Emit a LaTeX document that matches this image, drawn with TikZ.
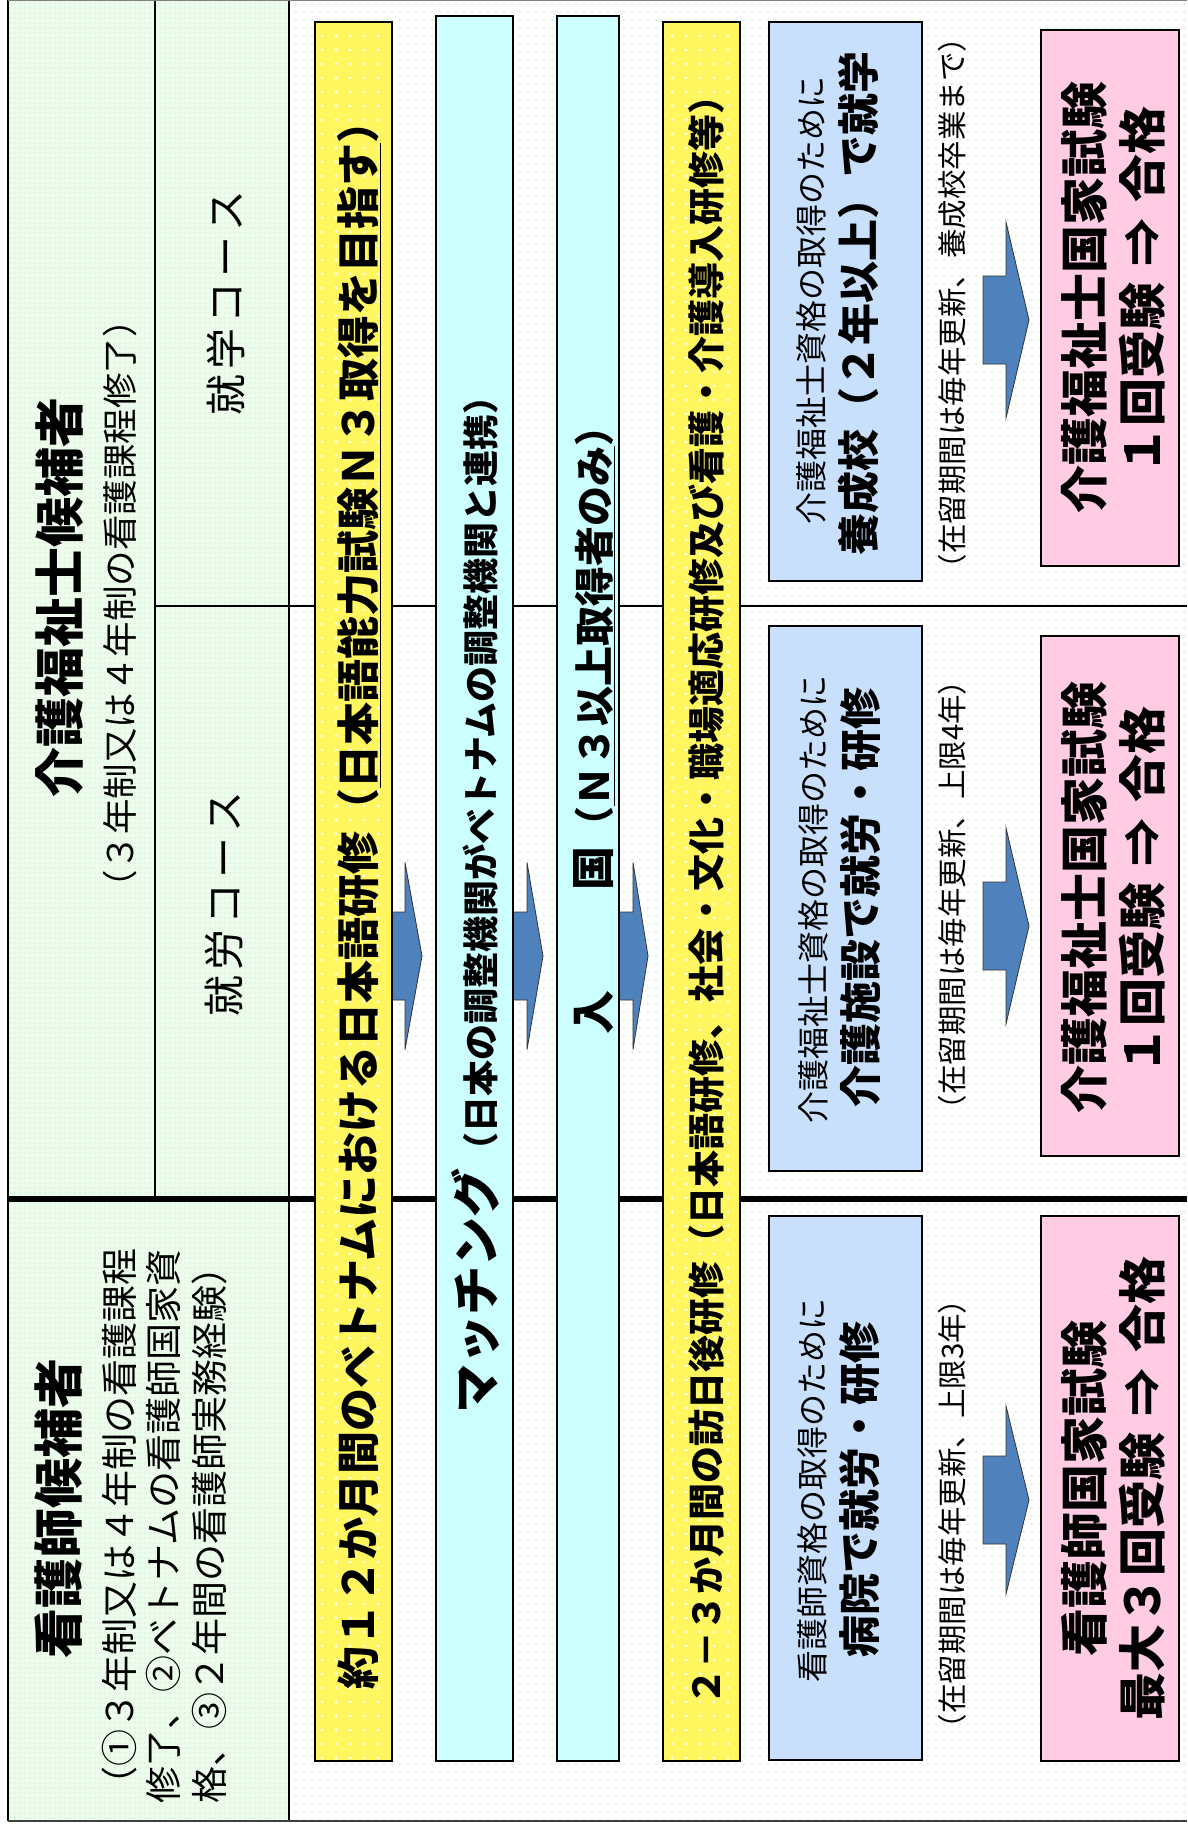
\documentclass[tikz,border=0pt]{standalone}
\usepackage{fontspec}
\setmainfont{Noto Sans CJK JP}
\usetikzlibrary{patterns.meta}
\definecolor{hdrgreen}{RGB}{238,252,238}
\definecolor{hdrdot}{RGB}{218,246,218}
\definecolor{dotgreen}{RGB}{205,243,205}
\definecolor{yel}{RGB}{255,246,96}
\definecolor{cya}{RGB}{204,255,255}
\definecolor{lblue}{RGB}{200,224,252}
\definecolor{pnk}{RGB}{255,204,228}
\definecolor{arrblue}{RGB}{79,129,189}
\newcommand{\fs}[1]{\fontsize{#1}{#1}\selectfont}
\newcommand{\barrow}[6]{%
  \filldraw[barr] (#1,#4-#5) -- (#2,#4-#5) -- (#2,#4-#6) -- (#3,#4) -- (#2,#4+#6) -- (#2,#4+#5) -- (#1,#4+#5) -- cycle;}
\begin{document}
\begin{tikzpicture}[x=1pt,y=-1pt,
  boxline/.style={draw=black, line width=2.2pt, inner sep=0pt, outer sep=0pt},
  ybox/.style={boxline, preaction={fill=yel}, pattern={Dots[distance=14pt,radius=1.5pt]}, pattern color=white},
  cbox/.style={boxline, fill=cya},
  bbox/.style={boxline, fill=lblue},
  pbox/.style={boxline, fill=pnk},
  rt/.style={rotate=90, inner sep=0pt, outer sep=0pt},
  barr/.style={fill=arrblue, draw=black!80, line width=0.8pt, line join=miter},
]
\useasboundingbox (0,0) rectangle (1187,1828);
\fill[white] (0,0) rectangle (1187,1828);
% backgrounds
\fill[hdrgreen] (8,0) rectangle (289,1821);
\path[pattern={Dots[distance=5pt,radius=1.2pt]}, pattern color=hdrdot] (8,0) rectangle (289,1821);
\path[pattern={Dots[distance=8pt,radius=1.2pt]}, pattern color=dotgreen] (289,0) rectangle (1187,1821);
% frame lines
\draw[line width=2pt] (155,0) -- (155,1199);
\draw[line width=2pt] (289,0) -- (289,1821);
\draw[line width=2pt] (155,606) -- (1187,606);
\draw[line width=5.5pt] (8,1199) -- (1187,1199);
\draw[line width=2.5pt] (8,0) -- (8,1821);
\draw[gray, line width=1.5pt] (8,0.75) -- (1187,0.75);
\draw[black!75, line width=2.5pt] (8,1821) -- (1187,1821);
% arrows
\barrow{391}{405}{422}{956}{44}{93.5}
\barrow{512}{527}{543}{956}{44}{93.5}
\barrow{618}{633}{648}{956}{44}{93.5}
\barrow{983}{1006}{1029}{320}{44}{98}
\barrow{983}{1006}{1029}{926}{44}{98}
\barrow{983}{1006}{1029}{1500}{44}{94}
% boxes
\node[ybox, minimum width=77pt, minimum height=1739pt] (y1) at (353.5,891.5) {};
\node[cbox, minimum width=77pt, minimum height=1745pt] (c1) at (474.5,888.5) {};
\node[cbox, minimum width=62pt, minimum height=1745pt] (c2) at (588,888.5) {};
\node[ybox, minimum width=77pt, minimum height=1739pt] (y2) at (701.5,891.5) {};
\node[bbox, minimum width=153pt, minimum height=559pt] (bA) at (845.5,301.5) {};
\node[bbox, minimum width=153pt, minimum height=545pt] (bB) at (845.5,898.5) {};
\node[bbox, minimum width=153pt, minimum height=544pt] (bC) at (845.5,1488) {};
\node[pbox, minimum width=138pt, minimum height=536pt] (pA) at (1110,298) {};
\node[pbox, minimum width=138pt, minimum height=520pt] (pB) at (1110,896) {};
\node[pbox, minimum width=138pt, minimum height=545pt] (pC) at (1110,1488.5) {};
% header texts
\node[rt, font={\fs{50}\bfseries}] (kt1) at (59,597) {介護福祉士候補者};
\node[rt, font={\fs{35.5}}] (kt2) at (120,604) {（３年制又は４年制の看護課程修了）};
\node[rt, font={\fs{41}}] (cs1) at (226,303) {就\kern5pt 学\kern5pt コ\kern5pt ー\kern5pt ス};
\node[rt, font={\fs{41}}] (cs2) at (224,904) {就\kern5pt 労\kern5pt コ\kern5pt ー\kern5pt ス};
\node[rt, font={\fs{50}\bfseries}] (nt1) at (59,1508) {看護師候補者};
\node[rt, anchor=west, font={\fs{37}}] (nl1) at (119,1803) {（①３年制又は４年制の看護課程};
\node[rt, anchor=west, font={\fs{37}}] (nl2) at (163,1803) {修了、②ベトナムの看護師国家資};
\node[rt, anchor=west, font={\fs{37}}] (nl3) at (209,1803) {格、③２年間の看護師実務経験）};
% column texts
\node[rt, anchor=base, font={\fs{43}\bfseries}] (y1t) at (374,895) {約１２か月間のベトナムにおける日本語研修（\underline{日本語能力試験Ｎ３取得を目指す}）};
\node[rt, anchor=base, font=\bfseries] (c1t) at (494,896) {{\fs{49}マッチング}{\fs{36}（日本の調整機関がベトナムの調整機関と連携）}};
\node[rt, anchor=base, font=\bfseries] (c2t) at (609,720) {{\fs{44}入\hspace{100pt}国}{\fs{40}（\underline{Ｎ３以上取得者のみ}）}};
\node[rt, font={\fs{37}\bfseries}] (y2t) at (706,891) {２－３か月間の訪日後研修（日本語研修、社会・文化・職場適応研修及び看護・介護導入研修等）};
% blue box texts
\node[rt, font={\fs{32}}] (bA1) at (811,300) {介護福祉士資格の取得のために};
\node[rt, font={\fs{42}\bfseries}] (bA2) at (858,303) {養成校（２年以上）で就学};
\node[rt, font={\fs{32}}] (bB1) at (813,899) {介護福祉士資格の取得のために};
\node[rt, font={\fs{42}\bfseries}] (bB2) at (861,897) {介護施設で就労・研修};
\node[rt, font={\fs{32}}] (bC1) at (812,1490) {看護師資格の取得のために};
\node[rt, font={\fs{42}\bfseries}] (bC2) at (860,1489) {病院で就労・研修};
% stay texts
\node[rt, font={\fs{29.5}}] (sA) at (952,303) {（在留期間は毎年更新、養成校卒業まで）};
\node[rt, font={\fs{29.5}}] (sB) at (952,895) {（在留期間は毎年更新、上限4年）};
\node[rt, font={\fs{29.5}}] (sC) at (952,1514) {（在留期間は毎年更新、上限3年）};
% pink texts
\node[rt, font={\fs{48}\bfseries}] (pA1) at (1084,297) {介護福祉士国家試験};
\node[rt, font={\fs{48}\bfseries}] (pA2) at (1142,290) {１回受験\hspace{16pt}⇒\hspace{16pt}合格};
\node[rt, font={\fs{48}\bfseries}] (pB1) at (1084,897) {介護福祉士国家試験};
\node[rt, font={\fs{48}\bfseries}] (pB2) at (1142,890) {１回受験\hspace{16pt}⇒\hspace{16pt}合格};
\node[rt, font={\fs{48}\bfseries}] (pC1) at (1084,1488) {看護師国家試験};
\node[rt, font={\fs{48}\bfseries}] (pC2) at (1142,1488) {最大３回受験\hspace{16pt}⇒\hspace{16pt}合格};
\end{tikzpicture}
\end{document}
